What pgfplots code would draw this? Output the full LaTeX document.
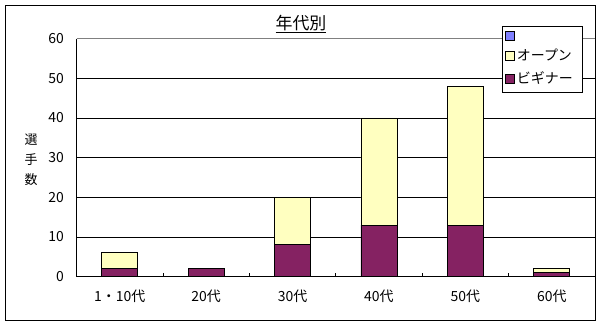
\documentclass[border=0pt]{standalone}
\usepackage{pgfplots}
\pgfplotsset{compat=1.18}
\usepackage{fontspec}
\setmainfont{Noto Sans CJK JP}
\definecolor{begc}{HTML}{852262}
\definecolor{openc}{HTML}{FFFFC0}
\definecolor{legblue}{HTML}{8080FF}
\begin{document}
\begin{tikzpicture}
\path (0,0) rectangle (602bp,326bp);
\draw[black, line width=0.8bp] (5bp,6bp) rectangle (595bp,321bp);
\begin{axis}[
  at={(76.5bp,49.4bp)}, anchor=south west,
  scale only axis, width=518.5bp, height=238bp,
  ybar stacked, bar width=36bp,
  xmin=-0.5, xmax=5.5, ymin=0, ymax=60,
  xtick={0,1,2,3,4,5},
  xticklabels={1・10代,20代,30代,40代,50代,60代},
  minor xtick={0.5,1.5,2.5,3.5,4.5},
  ytick={0,10,20,30,40,50,60},
  major tick length=0pt, minor tick length=4bp,
  tick align=inside,
  axis lines*=left,
  axis line style={black, line width=0.8bp},
  ymajorgrids, grid style={black, line width=0.6bp},
  minor tick style={black, line width=0.8bp},
  /pgf/number format/assume math mode=true,
  tick label style={font=\fontsize{14}{16}\selectfont},
  xticklabel style={yshift=-10bp},
  yticklabel style={xshift=-9bp},
  title={\underline{年代別}},
  title style={at={(0.433,1.035)}, anchor=center, font=\fontsize{17}{19}\selectfont},
  ylabel={選\\手\\数},
  ylabel style={rotate=-90, align=center, at={(axis description cs:-0.0877,0.49)}, anchor=center, font=\fontsize{13}{20}\selectfont},
  reverse legend,
  legend style={at={(0.8206,1.053)}, anchor=north west, draw=black, line width=0.8bp, fill=white,
    font=\fontsize{14}{16}\selectfont, inner xsep=3bp, inner ysep=5bp, row sep=6bp,
    legend cell align=left, text width=60bp},
  legend image code/.code={\draw[#1, line width=0.6bp] (0bp,-4.5bp) rectangle (9bp,4.5bp);},
]
\addplot+[fill=begc, draw=black, line width=0.8bp] coordinates {(0,2) (1,2) (2,8) (3,13) (4,13) (5,1)};
\addlegendentry{ビギナー}
\addplot+[fill=openc, draw=black, line width=0.8bp] coordinates {(0,4) (1,0) (2,12) (3,27) (4,35) (5,1)};
\addlegendentry{オープン}
\addlegendimage{fill=legblue, draw=black}
\addlegendentry{}
\draw[gray, line width=0.8bp] (axis cs:-0.5,60) -- (axis cs:5.5,60);
\end{axis}
\end{tikzpicture}
\end{document}
